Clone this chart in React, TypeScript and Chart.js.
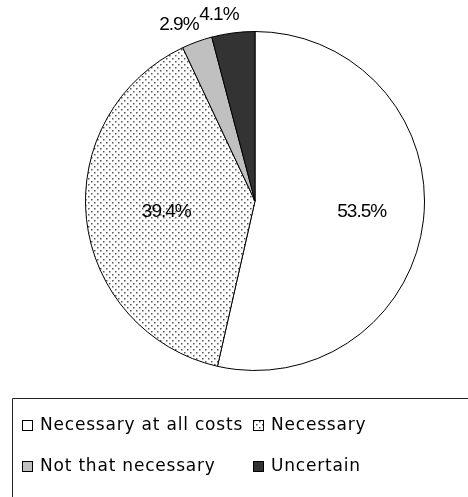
import React, { useEffect, useRef } from "react";
import { Chart, registerables } from "chart.js";

Chart.register(...registerables);

const categories = ["Necessary at all costs", "Necessary", "Not that necessary", "Uncertain"];
const values = [53.5, 39.4, 2.9, 4.1];
const valueLabels = ["53.5%", "39.4%", "2.9%", "4.1%"];

function makeDotPattern(): CanvasPattern | string {
  const c = document.createElement("canvas");
  c.width = 6;
  c.height = 6;
  const g = c.getContext("2d");
  if (!g) return "#ddd";
  g.fillStyle = "#ffffff";
  g.fillRect(0, 0, 6, 6);
  g.fillStyle = "#555555";
  g.fillRect(1, 1, 1.5, 1.5);
  g.fillRect(4, 4, 1.5, 1.5);
  const ctx = document.createElement("canvas").getContext("2d");
  return ctx ? (ctx.createPattern(c, "repeat") as CanvasPattern) : "#ddd";
}

export default function App() {
  const ref = useRef<HTMLCanvasElement | null>(null);

  useEffect(() => {
    if (!ref.current) return;
    const dots = makeDotPattern();
    const fills: any[] = ["#ffffff", dots, "#c0c0c0", "#333333"];

    const labelPlugin = {
      id: "pieLabels",
      afterDraw(chart: any) {
        const ctx = chart.ctx as any;
        const meta = chart.getDatasetMeta(0);
        ctx.save();
        ctx.fillStyle = "#000";
        ctx.textAlign = "center";
        ctx.textBaseline = "middle";
        ctx.font = '19px "Liberation Sans Narrow", "Liberation Sans", Arial, sans-serif';
        ctx.letterSpacing = "-1px";
        meta.data.forEach((arc: any, i: number) => {
          const p = arc.getProps(["x", "y", "startAngle", "endAngle", "outerRadius"], true);
          const mid = (p.startAngle + p.endAngle) / 2;
          const v = values[i];
          const inside = v > 10;
          const r = inside ? p.outerRadius * 0.58 : p.outerRadius + 18;
          let lx = p.x + Math.cos(mid) * r + (inside ? 9 : -12);
          const ly = p.y + Math.sin(mid) * r;
          ctx.fillText(valueLabels[i], lx, ly);
        });
        ctx.restore();

        // legend
        ctx.save();
        ctx.strokeStyle = "#222";
        ctx.lineWidth = 1;
        ctx.beginPath();
        ctx.moveTo(12.5, 497);
        ctx.lineTo(12.5, 398.5);
        ctx.lineTo(468, 398.5);
        ctx.stroke();
        const cols = [22, 253];
        const rows = [425, 466];
        ctx.font = '17px "DejaVu Sans", sans-serif';
        ctx.letterSpacing = "0.8px";
        ctx.textBaseline = "middle";
        ctx.textAlign = "left";
        categories.forEach((name, i) => {
          const bx = cols[i % 2];
          const by = rows[Math.floor(i / 2)];
          ctx.fillStyle = fills[i];
          ctx.fillRect(bx, by - 5, 10, 10);
          ctx.strokeStyle = "#000";
          ctx.strokeRect(bx + 0.5, by - 4.5, 10, 10);
          ctx.fillStyle = "#000";
          ctx.fillText(name, bx + 18, by + 1);
        });
        ctx.restore();
      },
    };

    const chart = new Chart(ref.current, {
      type: "pie",
      data: {
        labels: categories,
        datasets: [
          {
            data: values,
            backgroundColor: fills,
            borderColor: "#000000",
            borderWidth: 1,
          },
        ],
      },
      options: {
        responsive: false,
        animation: false,
        layout: { padding: { left: 85, right: 43, top: 31, bottom: 126 } },
        plugins: {
          legend: { display: false },
          tooltip: { enabled: false },
        },
      },
      plugins: [labelPlugin],
    });
    return () => chart.destroy();
  }, []);

  return (
    <div style={{ position: "absolute", left: 0, top: 0, width: 468, height: 497, background: "#fff" }}>
      <canvas ref={ref} width={468} height={497} />
    </div>
  );
}
